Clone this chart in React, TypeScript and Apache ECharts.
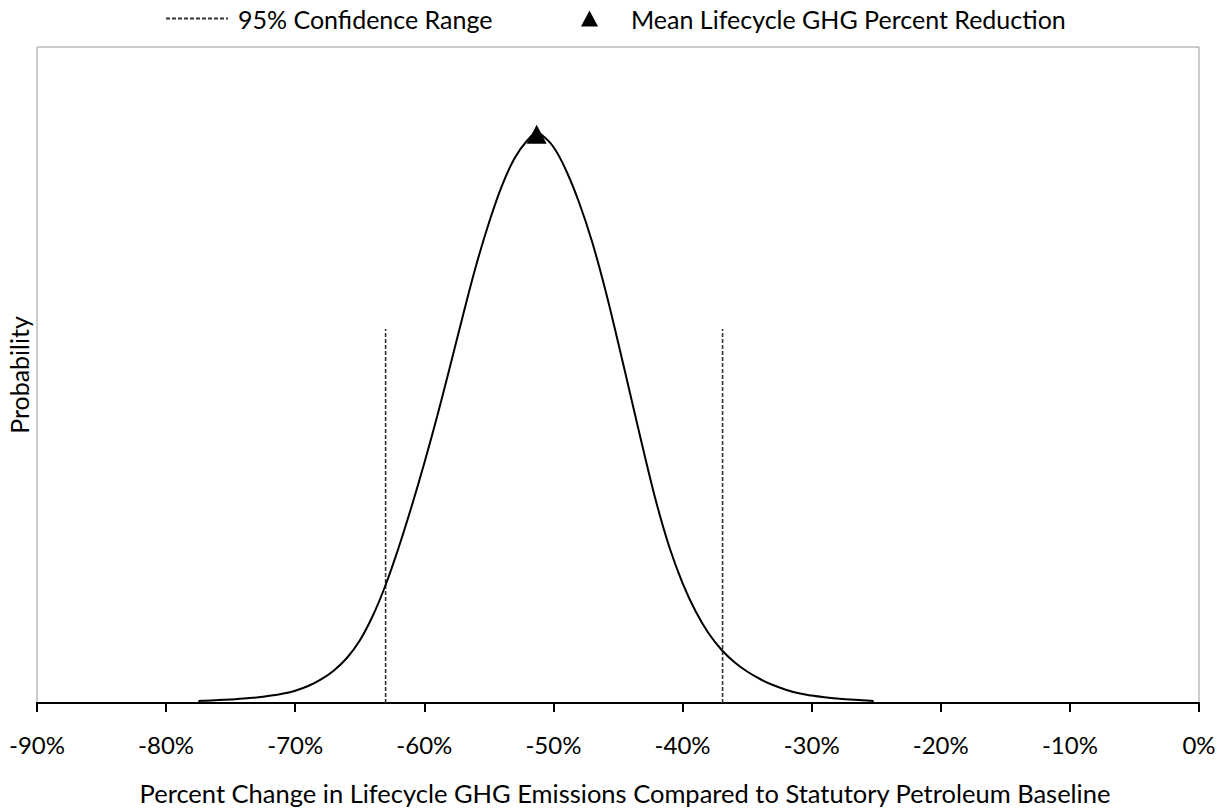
import React, { useEffect, useRef } from "react";
import * as echarts from "echarts";

// Distribution curve (x in %, y = relative probability, 0..100 scale)
const curveX = [-77.5, -77, -76, -75, -74, -73, -72, -71, -70, -69, -68, -67, -66, -65, -64, -63, -62, -61, -60, -59, -58, -57, -56, -55, -54, -53, -52, -51.3, -51, -50, -49, -48, -47, -46, -45, -44, -43, -42, -41, -40, -39, -38, -37, -36, -35, -34, -33, -32, -31, -30, -29, -28, -27, -26, -25.2];
const curveY = [0.30, 0.35, 0.44, 0.55, 0.67, 0.85, 1.10, 1.42, 1.88, 2.59, 3.60, 4.97, 6.86, 9.53, 13.26, 17.99, 23.63, 29.88, 36.59, 43.75, 51.37, 59.15, 66.62, 73.17, 78.81, 83.08, 85.82, 86.89, 86.74, 84.76, 81.10, 76.22, 70.27, 63.11, 55.03, 46.65, 38.26, 30.34, 23.63, 18.29, 14.02, 10.67, 8.16, 6.25, 4.80, 3.66, 2.74, 2.03, 1.49, 1.13, 0.87, 0.69, 0.53, 0.41, 0.32];

// 95% confidence bounds
const ciBounds = [-63.0, -36.9];
const ciTop = 57.0;

// Mean marker
const meanX = -51.3;
const meanY = 86.7;

// Axis ticks
const xMin = -90;
const xMax = 0;
const xStep = 10;

const CI_NAME = "95% Confidence Range";
const MEAN_NAME = "Mean Lifecycle GHG Percent Reduction";
const X_TITLE = "Percent Change in Lifecycle GHG Emissions Compared to Statutory Petroleum Baseline";
const Y_TITLE = "Probability";

const FONT = "Lato, 'Open Sans', sans-serif";

export default function App() {
  const ref = useRef<HTMLDivElement>(null);

  useEffect(() => {
    if (!ref.current) return;
    const chart = echarts.init(ref.current, null, { renderer: "svg" });

    const curveData = curveX.map((x, i) => [x, curveY[i]]);
    const ciSeries = ciBounds.map((b) => ({
      name: CI_NAME,
      type: "line",
      data: [
        [b, 0],
        [b, ciTop],
      ],
      symbol: "none",
      silent: true,
      lineStyle: { color: "#333", width: 1.6, type: [4, 2] },
      itemStyle: { color: "#333" },
      z: 2,
    }));

    chart.setOption({
      animation: false,
      textStyle: { fontFamily: FONT },
      grid: {
        left: 37,
        right: 26,
        top: 47,
        bottom: 105,
        show: true,
        borderColor: "#999",
        borderWidth: 1,
        backgroundColor: "transparent",
        outerBoundsMode: "none",
        containLabel: false,
      },
      legend: [
        {
          data: [CI_NAME],
          left: 160,
          top: 1,
          itemWidth: 62,
          itemHeight: 14,
          itemStyle: { opacity: 0 },
          textStyle: { fontSize: 25, color: "#000", fontFamily: FONT, padding: [0, 0, 0, 5] },
        },
        {
          data: [MEAN_NAME],
          left: 576,
          top: 1,
          itemWidth: 17,
          itemHeight: 16,
          textStyle: { fontSize: 25, color: "#000", fontFamily: FONT, padding: [0, 0, 0, 28] },
        },
      ],
      xAxis: {
        type: "value",
        min: xMin,
        max: xMax,
        interval: xStep,
        axisLine: { lineStyle: { color: "#000", width: 2 } },
        axisTick: { length: 9, lineStyle: { color: "#000", width: 2 } },
        axisLabel: {
          formatter: (v: number) => `${v}%`,
          fontSize: 24,
          color: "#000",
          margin: 29,
          fontFamily: FONT,
        },
        splitLine: { show: false },
        name: X_TITLE,
        nameLocation: "middle",
        nameGap: 77,
        nameTextStyle: { fontSize: 25.5, color: "#000", fontFamily: FONT, padding: [0, 0, 0, 14] },
      },
      yAxis: {
        type: "value",
        min: 0,
        max: 100,
        axisLine: { show: false },
        axisTick: { show: false },
        axisLabel: { show: false },
        splitLine: { show: false },
        name: Y_TITLE,
        nameLocation: "middle",
        nameGap: 6,
        nameRotate: 90,
        nameTextStyle: { fontSize: 25, color: "#000", fontFamily: FONT },
      },
      series: [
        {
          name: "Distribution",
          type: "line",
          data: curveData,
          smooth: 0.4,
          symbol: "none",
          silent: true,
          lineStyle: { color: "#000", width: 2 },
          z: 3,
        },
        ...ciSeries,
        {
          name: MEAN_NAME,
          type: "scatter",
          data: [[meanX, meanY]],
          symbol: "triangle",
          symbolSize: [20, 19],
          itemStyle: { color: "#000", opacity: 1 },
          z: 4,
        },
      ],
    });

    return () => chart.dispose();
  }, []);

  return (
    <div
      ref={ref}
      style={{ position: "fixed", left: 0, top: 0, width: 1225, height: 808, background: "#fff" }}
    />
  );
}
